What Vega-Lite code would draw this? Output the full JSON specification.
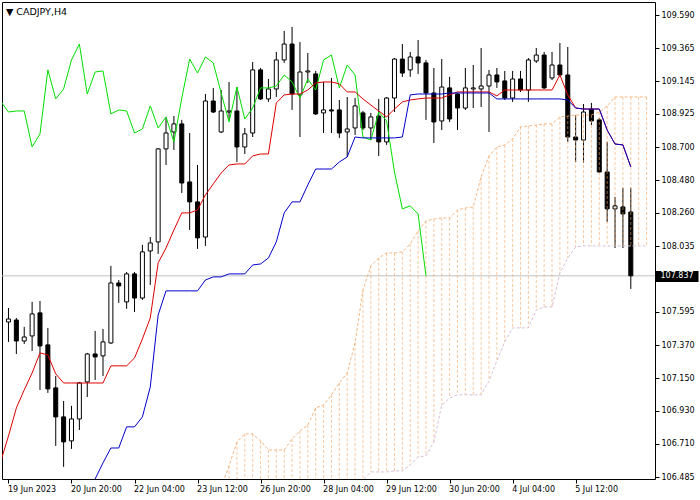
{
  "$schema": "https://vega.github.io/schema/vega-lite/v6.json",
  "width": 653,
  "height": 477,
  "autosize": {"type": "none"},
  "padding": {"left": 2, "top": 2, "right": 45, "bottom": 21},
  "background": "white",
  "config": {
    "view": {"stroke": "black", "strokeWidth": 1},
    "axis": {"labelFont": "DejaVu Sans"}
  },
  "title": {"text": "▼  CADJPY,H4", "anchor": "start", "frame": "group", "offset": -14, "dx": 4, "font": "DejaVu Sans", "fontSize": 9.5, "fontWeight": "normal", "color": "black"},
  "datasets": {
    "candles": [
      {"i":0,"o":107.527,"h":107.621,"l":107.393,"c":107.547},
      {"i":1,"o":107.540,"h":107.554,"l":107.312,"c":107.399},
      {"i":2,"o":107.399,"h":107.494,"l":107.379,"c":107.426},
      {"i":3,"o":107.433,"h":107.662,"l":107.332,"c":107.581},
      {"i":4,"o":107.588,"h":107.668,"l":107.070,"c":107.366},
      {"i":5,"o":107.373,"h":107.487,"l":107.050,"c":107.077},
      {"i":6,"o":107.084,"h":107.164,"l":106.694,"c":106.889},
      {"i":7,"o":106.889,"h":106.996,"l":106.553,"c":106.721},
      {"i":8,"o":106.728,"h":106.963,"l":106.674,"c":106.875},
      {"i":9,"o":106.875,"h":107.124,"l":106.801,"c":107.117},
      {"i":10,"o":107.124,"h":107.319,"l":107.023,"c":107.312},
      {"i":11,"o":107.312,"h":107.467,"l":107.137,"c":107.292},
      {"i":12,"o":107.299,"h":107.480,"l":107.164,"c":107.393},
      {"i":13,"o":107.386,"h":107.904,"l":107.379,"c":107.789},
      {"i":14,"o":107.789,"h":107.809,"l":107.655,"c":107.769},
      {"i":15,"o":107.662,"h":107.863,"l":107.615,"c":107.850},
      {"i":16,"o":107.850,"h":107.863,"l":107.594,"c":107.688},
      {"i":17,"o":107.688,"h":108.045,"l":107.675,"c":107.998},
      {"i":18,"o":108.004,"h":108.098,"l":107.776,"c":108.058},
      {"i":19,"o":108.065,"h":108.696,"l":107.984,"c":108.690},
      {"i":20,"o":108.690,"h":108.905,"l":108.582,"c":108.797},
      {"i":21,"o":108.804,"h":108.911,"l":108.683,"c":108.858},
      {"i":22,"o":108.858,"h":108.885,"l":108.394,"c":108.461},
      {"i":23,"o":108.468,"h":108.797,"l":108.145,"c":108.334},
      {"i":24,"o":108.334,"h":108.582,"l":108.018,"c":108.092},
      {"i":25,"o":108.098,"h":109.059,"l":108.038,"c":109.012},
      {"i":26,"o":109.012,"h":109.100,"l":108.932,"c":108.938},
      {"i":27,"o":108.804,"h":109.086,"l":108.797,"c":108.945},
      {"i":28,"o":108.938,"h":109.140,"l":108.885,"c":108.945},
      {"i":29,"o":108.945,"h":109.106,"l":108.602,"c":108.703},
      {"i":30,"o":108.703,"h":108.831,"l":108.656,"c":108.791},
      {"i":31,"o":108.797,"h":109.274,"l":108.770,"c":109.221},
      {"i":32,"o":109.221,"h":109.234,"l":109.019,"c":109.026},
      {"i":33,"o":109.026,"h":109.160,"l":109.006,"c":109.093},
      {"i":34,"o":109.093,"h":109.342,"l":109.039,"c":109.288},
      {"i":35,"o":109.288,"h":109.483,"l":109.268,"c":109.395},
      {"i":36,"o":109.395,"h":109.510,"l":108.952,"c":109.059},
      {"i":37,"o":109.053,"h":109.409,"l":108.770,"c":109.207},
      {"i":38,"o":109.207,"h":109.335,"l":109.133,"c":109.214},
      {"i":39,"o":109.194,"h":109.214,"l":108.918,"c":108.925},
      {"i":40,"o":108.932,"h":109.140,"l":108.797,"c":108.952},
      {"i":41,"o":108.952,"h":109.167,"l":108.797,"c":108.945},
      {"i":42,"o":108.952,"h":109.019,"l":108.764,"c":108.797},
      {"i":43,"o":108.804,"h":109.039,"l":108.636,"c":108.824},
      {"i":44,"o":108.831,"h":109.032,"l":108.784,"c":108.979},
      {"i":45,"o":108.932,"h":108.945,"l":108.817,"c":108.831},
      {"i":46,"o":108.831,"h":108.932,"l":108.750,"c":108.905},
      {"i":47,"o":108.911,"h":109.026,"l":108.643,"c":108.737},
      {"i":48,"o":108.737,"h":109.039,"l":108.717,"c":109.032},
      {"i":49,"o":109.032,"h":109.301,"l":108.938,"c":109.294},
      {"i":50,"o":109.294,"h":109.395,"l":109.174,"c":109.200},
      {"i":51,"o":109.221,"h":109.342,"l":109.174,"c":109.308},
      {"i":52,"o":109.308,"h":109.422,"l":109.194,"c":109.268},
      {"i":53,"o":109.268,"h":109.288,"l":108.885,"c":109.066},
      {"i":54,"o":109.066,"h":109.234,"l":108.730,"c":108.871},
      {"i":55,"o":108.878,"h":109.294,"l":108.817,"c":109.106},
      {"i":56,"o":109.100,"h":109.174,"l":108.871,"c":108.891},
      {"i":57,"o":109.059,"h":109.066,"l":108.817,"c":108.965},
      {"i":58,"o":108.965,"h":109.234,"l":108.952,"c":109.100},
      {"i":59,"o":109.093,"h":109.254,"l":108.965,"c":109.100},
      {"i":60,"o":109.093,"h":109.368,"l":108.972,"c":109.113},
      {"i":61,"o":109.113,"h":109.221,"l":108.804,"c":109.187},
      {"i":62,"o":109.187,"h":109.234,"l":109.100,"c":109.140},
      {"i":63,"o":109.147,"h":109.214,"l":109.019,"c":109.032},
      {"i":64,"o":109.032,"h":109.214,"l":109.006,"c":109.160},
      {"i":65,"o":109.160,"h":109.214,"l":109.073,"c":109.086},
      {"i":66,"o":109.086,"h":109.301,"l":109.006,"c":109.288},
      {"i":67,"o":109.281,"h":109.368,"l":109.268,"c":109.321},
      {"i":68,"o":109.321,"h":109.342,"l":109.093,"c":109.100},
      {"i":69,"o":109.167,"h":109.342,"l":109.153,"c":109.254},
      {"i":70,"o":109.254,"h":109.402,"l":109.174,"c":109.187},
      {"i":71,"o":109.187,"h":109.375,"l":108.737,"c":108.770},
      {"i":72,"o":108.770,"h":108.918,"l":108.602,"c":108.750},
      {"i":73,"o":108.750,"h":108.992,"l":108.596,"c":108.938},
      {"i":74,"o":108.958,"h":108.999,"l":108.851,"c":108.878},
      {"i":75,"o":108.885,"h":108.898,"l":108.528,"c":108.535},
      {"i":76,"o":108.535,"h":108.737,"l":108.199,"c":108.287},
      {"i":77,"o":108.287,"h":108.367,"l":108.024,"c":108.307},
      {"i":78,"o":108.300,"h":108.428,"l":108.024,"c":108.253},
      {"i":79,"o":108.266,"h":108.428,"l":107.749,"c":107.837}
    ],
    "ind": [
      {"i":-1,"t":106.586,"ch":109.012},
      {"i":0,"t":106.761,"ch":108.938},
      {"i":1,"t":106.949,"ch":108.945},
      {"i":2,"t":107.070,"ch":108.945},
      {"i":3,"t":107.184,"ch":108.703},
      {"i":4,"t":107.319,"ch":108.791},
      {"i":5,"t":107.305,"ch":109.221},
      {"i":6,"t":107.178,"ch":109.026},
      {"i":7,"t":107.117,"ch":109.093},
      {"i":8,"t":107.117,"ch":109.288},
      {"i":9,"t":107.117,"ch":109.395},
      {"i":10,"t":107.117,"k":106.365,"ch":109.059},
      {"i":11,"t":107.117,"k":106.472,"ch":109.207},
      {"i":12,"t":107.117,"k":106.580,"ch":109.214},
      {"i":13,"t":107.232,"k":106.680,"ch":108.925},
      {"i":14,"t":107.232,"k":106.680,"ch":108.952},
      {"i":15,"t":107.232,"k":106.822,"ch":108.945},
      {"i":16,"t":107.285,"k":106.822,"ch":108.797},
      {"i":17,"t":107.413,"k":106.889,"ch":108.824},
      {"i":18,"t":107.554,"k":107.090,"ch":108.979},
      {"i":19,"t":107.924,"k":107.574,"ch":108.831},
      {"i":20,"t":108.024,"k":107.736,"ch":108.905},
      {"i":21,"t":108.145,"k":107.736,"ch":108.737},
      {"i":22,"t":108.260,"k":107.736,"ch":109.032},
      {"i":23,"t":108.260,"k":107.736,"ch":109.294},
      {"i":24,"t":108.280,"k":107.736,"ch":109.200},
      {"i":25,"t":108.381,"k":107.809,"ch":109.308},
      {"i":26,"t":108.455,"k":107.830,"ch":109.268},
      {"i":27,"t":108.528,"k":107.830,"ch":109.066,"a":106.418,"b":106.30},
      {"i":28,"t":108.582,"k":107.850,"ch":108.871,"a":106.560,"b":106.30},
      {"i":29,"t":108.589,"k":107.850,"ch":109.106,"a":106.721,"b":106.30},
      {"i":30,"t":108.589,"k":107.850,"ch":108.891,"a":106.775,"b":106.30},
      {"i":31,"t":108.643,"k":107.910,"ch":108.965,"a":106.775,"b":106.30},
      {"i":32,"t":108.656,"k":107.917,"ch":109.100,"a":106.728,"b":106.30},
      {"i":33,"t":108.656,"k":107.957,"ch":109.100,"a":106.667,"b":106.30},
      {"i":34,"t":108.999,"k":108.065,"ch":109.113,"a":106.667,"b":106.30},
      {"i":35,"t":109.053,"k":108.260,"ch":109.187,"a":106.667,"b":106.30},
      {"i":36,"t":109.059,"k":108.334,"ch":109.140,"a":106.741,"b":106.30},
      {"i":37,"t":109.059,"k":108.334,"ch":109.032,"a":106.795,"b":106.30},
      {"i":38,"t":109.086,"k":108.448,"ch":109.160,"a":106.835,"b":106.30},
      {"i":39,"t":109.133,"k":108.555,"ch":109.086,"a":106.949,"b":106.30},
      {"i":40,"t":109.140,"k":108.555,"ch":109.288,"a":106.969,"b":106.30},
      {"i":41,"t":109.140,"k":108.555,"ch":109.321,"a":107.037,"b":106.30},
      {"i":42,"t":109.127,"k":108.602,"ch":109.100,"a":107.117,"b":106.30},
      {"i":43,"t":109.073,"k":108.636,"ch":109.254,"a":107.184,"b":106.32},
      {"i":44,"t":109.073,"k":108.770,"ch":109.187,"a":107.386,"b":106.38},
      {"i":45,"t":109.026,"k":108.764,"ch":108.770,"a":107.742,"b":106.466},
      {"i":46,"t":108.985,"k":108.764,"ch":108.750,"a":107.904,"b":106.519},
      {"i":47,"t":108.945,"k":108.764,"ch":108.938,"a":107.957,"b":106.519},
      {"i":48,"t":108.905,"k":108.764,"ch":108.878,"a":107.991,"b":106.519},
      {"i":49,"t":108.958,"k":108.764,"ch":108.535,"a":107.991,"b":106.526},
      {"i":50,"t":109.006,"k":108.770,"ch":108.287,"a":107.998,"b":106.526},
      {"i":51,"t":109.019,"k":109.053,"ch":108.307,"a":108.051,"b":106.566},
      {"i":52,"t":109.026,"k":109.059,"ch":108.253,"a":108.139,"b":106.620},
      {"i":53,"t":109.032,"k":109.059,"ch":107.837,"a":108.206,"b":106.627},
      {"i":54,"t":109.032,"k":109.059,"a":108.219,"b":106.721},
      {"i":55,"t":109.032,"k":109.059,"a":108.226,"b":106.969},
      {"i":56,"t":109.053,"k":109.066,"a":108.226,"b":107.016},
      {"i":57,"t":109.073,"k":109.066,"a":108.280,"b":107.037},
      {"i":58,"t":109.073,"k":109.066,"a":108.293,"b":107.037},
      {"i":59,"t":109.073,"k":109.066,"a":108.300,"b":107.037},
      {"i":60,"t":109.073,"k":109.066,"a":108.502,"b":107.037},
      {"i":61,"t":109.073,"k":109.066,"a":108.643,"b":107.131},
      {"i":62,"t":109.046,"k":109.026,"a":108.703,"b":107.265},
      {"i":63,"t":109.086,"k":109.026,"a":108.717,"b":107.393},
      {"i":64,"t":109.086,"k":109.026,"a":108.757,"b":107.487},
      {"i":65,"t":109.086,"k":109.026,"a":108.838,"b":107.487},
      {"i":66,"t":109.086,"k":109.026,"a":108.844,"b":107.487},
      {"i":67,"t":109.086,"k":109.026,"a":108.851,"b":107.608},
      {"i":68,"t":109.086,"k":109.026,"a":108.858,"b":107.628},
      {"i":69,"t":109.086,"k":109.026,"a":108.858,"b":107.628},
      {"i":70,"t":109.187,"k":109.026,"a":108.905,"b":107.856},
      {"i":71,"t":109.053,"k":109.019,"a":108.911,"b":107.957},
      {"i":72,"t":108.965,"k":108.965,"a":108.918,"b":108.031},
      {"i":73,"t":108.958,"k":108.958,"a":108.918,"b":108.038},
      {"i":74,"t":108.958,"k":108.958,"a":108.918,"b":108.038},
      {"i":75,"t":108.958,"k":108.958,"a":108.938,"b":108.038},
      {"i":76,"t":108.817,"k":108.817,"a":108.979,"b":108.038},
      {"i":77,"t":108.723,"k":108.723,"a":109.039,"b":108.038},
      {"i":78,"t":108.717,"k":108.717,"a":109.039,"b":108.038},
      {"i":79,"t":108.569,"k":108.569,"a":109.039,"b":108.038},
      {"i":80,"a":109.039,"b":108.038},
      {"i":81,"a":109.039,"b":108.038}
    ],
    "bid": [{"price": 107.837}]
  },
  "layer": [
    {
      "data": {"name": "bid"},
      "mark": {"type": "rule", "color": "#c0c0c0", "strokeWidth": 1},
      "encoding": {
        "y": {"field": "price", "type": "quantitative",
          "scale": {"domain": [106.4716, 109.6774], "nice": false, "zero": false},
          "axis": {"orient": "right", "values": [107.837], "format": ".3f", "title": null, "grid": false, "domain": false, "tickColor": "black", "tickSize": 43, "tickWidth": 11, "labelPadding": -38, "labelFont": "DejaVu Sans", "labelFontSize": 8, "labelColor": "white", "labelBaseline": "middle"}}
      }
    },
    {
      "data": {"name": "candles"},
      "mark": {"type": "rule", "color": "black", "strokeWidth": 1, "clip": true},
      "encoding": {
        "x": {"field": "i", "type": "quantitative",
          "scale": {"domain": [-0.1875, 81.4375], "nice": false, "zero": false},
          "axis": {"values": [0, 8, 16, 24, 32, 40, 48, 56, 64, 72], "labelExpr": "['19 Jun 2023','20 Jun 20:00','22 Jun 04:00','23 Jun 12:00','26 Jun 20:00','28 Jun 04:00','29 Jun 12:00','30 Jun 20:00','4 Jul 04:00','5 Jul 12:00'][round(datum.value/8)]", "title": null, "grid": false, "domain": false, "tickColor": "black", "tickSize": 4, "labelAlign": "left", "labelBaseline": "top", "labelPadding": 2, "labelFont": "DejaVu Sans", "labelFontSize": 8, "labelColor": "black", "labelOverlap": false, "labelFlush": false, "labelBound": false, "labelOffset": -1}},
        "y": {"field": "l", "type": "quantitative",
          "scale": {"domain": [106.4716, 109.6774], "nice": false, "zero": false},
          "axis": {"orient": "right", "values": [109.59, 109.365, 109.145, 108.925, 108.7, 108.48, 108.26, 108.035, 107.595, 107.37, 107.15, 106.93, 106.71, 106.485], "format": ".3f", "title": null, "grid": false, "domain": false, "tickColor": "black", "tickSize": 4, "labelPadding": 2, "labelFont": "DejaVu Sans", "labelFontSize": 8, "labelColor": "black", "labelOverlap": false, "labelBaseline": "middle"}},
        "y2": {"field": "h"}
      }
    },
    {
      "data": {"name": "candles"},
      "mark": {"type": "bar", "size": 4, "stroke": "black", "strokeWidth": 1, "clip": true},
      "encoding": {
        "x": {"field": "i", "type": "quantitative", "scale": {"domain": [-0.1875, 81.4375], "nice": false, "zero": false}},
        "y": {"field": "o", "type": "quantitative", "scale": {"domain": [106.4716, 109.6774], "nice": false, "zero": false}, "axis": null},
        "y2": {"field": "c"},
        "fill": {"condition": {"test": "datum.c >= datum.o", "value": "white"}, "value": "black"}
      }
    },
    {
      "data": {"name": "ind"},
      "mark": {"type": "rule", "color": "#f4a460", "opacity": 0.6, "strokeWidth": 1, "strokeDash": [3, 2], "clip": true},
      "encoding": {
        "x": {"field": "i", "type": "quantitative", "scale": {"domain": [-0.1875, 81.4375], "nice": false, "zero": false}},
        "y": {"field": "a", "type": "quantitative", "scale": {"domain": [106.4716, 109.6774], "nice": false, "zero": false}, "axis": null},
        "y2": {"field": "b"}
      }
    },
    {
      "data": {"name": "ind"},
      "mark": {"type": "line", "color": "#f4a460", "opacity": 0.8, "strokeWidth": 1, "strokeDash": [3, 2], "clip": true},
      "encoding": {
        "x": {"field": "i", "type": "quantitative", "scale": {"domain": [-0.1875, 81.4375], "nice": false, "zero": false}},
        "y": {"field": "a", "type": "quantitative", "scale": {"domain": [106.4716, 109.6774], "nice": false, "zero": false}, "axis": null}
      }
    },
    {
      "data": {"name": "ind"},
      "mark": {"type": "line", "color": "#d8bfd8", "strokeWidth": 1, "strokeDash": [3, 2], "clip": true},
      "encoding": {
        "x": {"field": "i", "type": "quantitative", "scale": {"domain": [-0.1875, 81.4375], "nice": false, "zero": false}},
        "y": {"field": "b", "type": "quantitative", "scale": {"domain": [106.4716, 109.6774], "nice": false, "zero": false}, "axis": null}
      }
    },
    {
      "data": {"name": "ind"},
      "mark": {"type": "line", "color": "#00e000", "strokeWidth": 1, "clip": true},
      "encoding": {
        "x": {"field": "i", "type": "quantitative", "scale": {"domain": [-0.1875, 81.4375], "nice": false, "zero": false}},
        "y": {"field": "ch", "type": "quantitative", "scale": {"domain": [106.4716, 109.6774], "nice": false, "zero": false}, "axis": null}
      }
    },
    {
      "data": {"name": "ind"},
      "mark": {"type": "line", "color": "#e00000", "strokeWidth": 1, "clip": true},
      "encoding": {
        "x": {"field": "i", "type": "quantitative", "scale": {"domain": [-0.1875, 81.4375], "nice": false, "zero": false}},
        "y": {"field": "t", "type": "quantitative", "scale": {"domain": [106.4716, 109.6774], "nice": false, "zero": false}, "axis": null}
      }
    },
    {
      "data": {"name": "ind"},
      "mark": {"type": "line", "color": "#0000cc", "strokeWidth": 1, "clip": true},
      "encoding": {
        "x": {"field": "i", "type": "quantitative", "scale": {"domain": [-0.1875, 81.4375], "nice": false, "zero": false}},
        "y": {"field": "k", "type": "quantitative", "scale": {"domain": [106.4716, 109.6774], "nice": false, "zero": false}, "axis": null}
      }
    }
  ],
  "resolve": {"axis": {"y": "independent"}}
}
